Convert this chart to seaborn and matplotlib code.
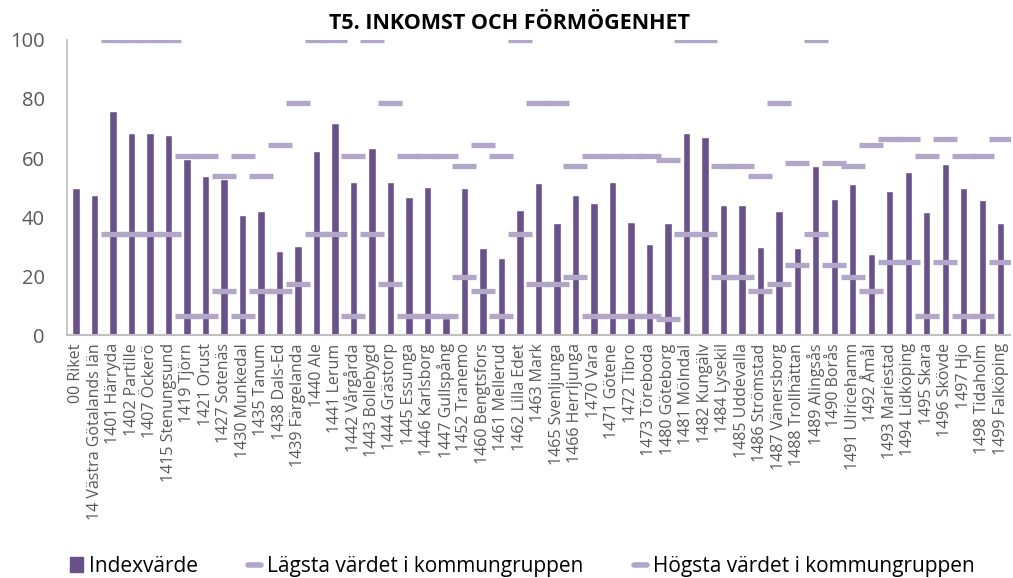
import matplotlib
matplotlib.use("Agg")
import matplotlib.pyplot as plt
import numpy as np
import pandas as pd
import seaborn as sns
from matplotlib.lines import Line2D
from matplotlib.patches import Patch

kommuner = [
    "00 Riket", "14 Västra Götalands län", "1401 Härryda", "1402 Partille", "1407 Öckerö",
    "1415 Stenungsund", "1419 Tjörn", "1421 Orust", "1427 Sotenäs", "1430 Munkedal",
    "1435 Tanum", "1438 Dals-Ed", "1439 Färgelanda", "1440 Ale", "1441 Lerum",
    "1442 Vårgårda", "1443 Bollebygd", "1444 Grästorp", "1445 Essunga", "1446 Karlsborg",
    "1447 Gullspång", "1452 Tranemo", "1460 Bengtsfors", "1461 Mellerud", "1462 Lilla Edet",
    "1463 Mark", "1465 Svenljunga", "1466 Herrljunga", "1470 Vara", "1471 Götene",
    "1472 Tibro", "1473 Töreboda", "1480 Göteborg", "1481 Mölndal", "1482 Kungälv",
    "1484 Lysekil", "1485 Uddevalla", "1486 Strömstad", "1487 Vänersborg", "1488 Trollhättan",
    "1489 Alingsås", "1490 Borås", "1491 Ulricehamn", "1492 Åmål", "1493 Mariestad",
    "1494 Lidköping", "1495 Skara", "1496 Skövde", "1497 Hjo", "1498 Tidaholm",
    "1499 Falköping",
]

indexvarde = [
    49.7, 47.5, 75.9, 68.4, 68.4, 67.9, 59.7, 53.9, 52.9, 40.7,
    42.0, 28.5, 30.3, 62.4, 71.9, 51.8, 63.5, 51.8, 46.7, 50.2,
    5.6, 49.7, 29.4, 26.2, 42.4, 51.6, 38.0, 47.6, 44.6, 51.9,
    38.2, 30.7, 38.1, 68.4, 67.2, 44.1, 44.2, 29.9, 42.0, 29.6,
    57.3, 46.1, 51.3, 27.5, 48.7, 55.1, 41.8, 58.0, 49.7, 45.8,
    38.0,
]

lagsta = [
    np.nan, np.nan, 34.3, 34.3, 34.3, 34.3, 6.4, 6.4, 14.9, 6.4,
    14.9, 14.9, 17.3, 34.3, 34.3, 6.4, 34.3, 17.3, 6.4, 6.4,
    6.4, 19.7, 14.9, 6.4, 34.3, 17.3, 17.3, 19.7, 6.4, 6.4,
    6.4, 6.4, 5.5, 34.3, 34.3, 19.7, 19.7, 14.9, 17.3, 23.6,
    34.3, 23.6, 19.7, 14.9, 24.6, 24.6, 6.4, 24.6, 6.4, 6.4,
    24.6,
]

hogsta = [
    np.nan, np.nan, 100, 100, 100, 100, 60.8, 60.8, 53.9, 60.8,
    53.9, 64.5, 78.5, 100, 100, 60.8, 100, 78.5, 60.8, 60.8,
    60.8, 57.3, 64.5, 60.8, 100, 78.5, 78.5, 57.3, 60.8, 60.8,
    60.8, 60.8, 59.3, 100, 100, 57.3, 57.3, 54.0, 78.5, 58.4,
    100, 58.4, 57.3, 64.5, 66.3, 66.3, 60.8, 66.3, 60.8, 60.8,
    66.3,
]

BAR = "#69518a"
DASH = "#b3a7c9"
GREY = "#595959"

sns.set_style("white")
plt.rcParams["font.family"] = ["Open Sans", "DejaVu Sans"]

df = pd.DataFrame({"kommun": kommuner, "index": indexvarde,
                   "lagsta": lagsta, "hogsta": hogsta})

fig = plt.figure(figsize=(10.13, 5.78), dpi=100)
ax = fig.add_axes([0.066, 0.4204, 0.931, 0.5104])

sns.barplot(data=df, x="kommun", y="index", order=kommuner, color=BAR,
            width=0.4, saturation=1, ax=ax)
for col in ["lagsta", "hogsta"]:
    sns.pointplot(data=df, x="kommun", y=col, order=kommuner, color=DASH,
                  linestyle="none", marker="_", markersize=17,
                  markeredgewidth=3.8, errorbar=None, ax=ax)

ax.set_ylim(0, 100)
ax.set_xlim(-0.5, len(kommuner) - 0.5)
ax.set_yticks([0, 20, 40, 60, 80, 100])
ax.set_xlabel("")
ax.set_ylabel("")
ax.tick_params(axis="y", length=0, pad=16, labelsize=14.5, labelcolor=GREY)
ax.tick_params(axis="x", length=0, pad=6, labelsize=11.5, labelcolor=GREY)
plt.setp(ax.get_xticklabels(), rotation=90)
for side in ["top", "right"]:
    ax.spines[side].set_visible(False)
ax.spines["left"].set_color("#bfbfbf")
ax.spines["bottom"].set_color("#bfbfbf")
ax.spines["left"].set_linewidth(1.2)
ax.spines["bottom"].set_linewidth(1.5)

fig.text(0.503, 0.96, "T5. INKOMST OCH FÖRMÖGENHET", ha="center", va="center",
         fontsize=15.5, fontweight="bold", color="black")

handles = [
    Patch(facecolor=BAR, edgecolor=BAR),
    Line2D([], [], color=DASH, linewidth=4),
    Line2D([], [], color=DASH, linewidth=4),
]
labels = ["Indexvärde", "Lägsta värdet i kommungruppen", "Högsta värdet i kommungruppen"]
fig.legend(handles, labels, loc="center left", bbox_to_anchor=(70 / 1013, 0.02),
           ncol=3, frameon=False, fontsize=15, handlelength=0.62, handletextpad=0.3,
           columnspacing=2.4, borderpad=0, borderaxespad=0, labelcolor="black")

fig.savefig("out.png", dpi=100)
